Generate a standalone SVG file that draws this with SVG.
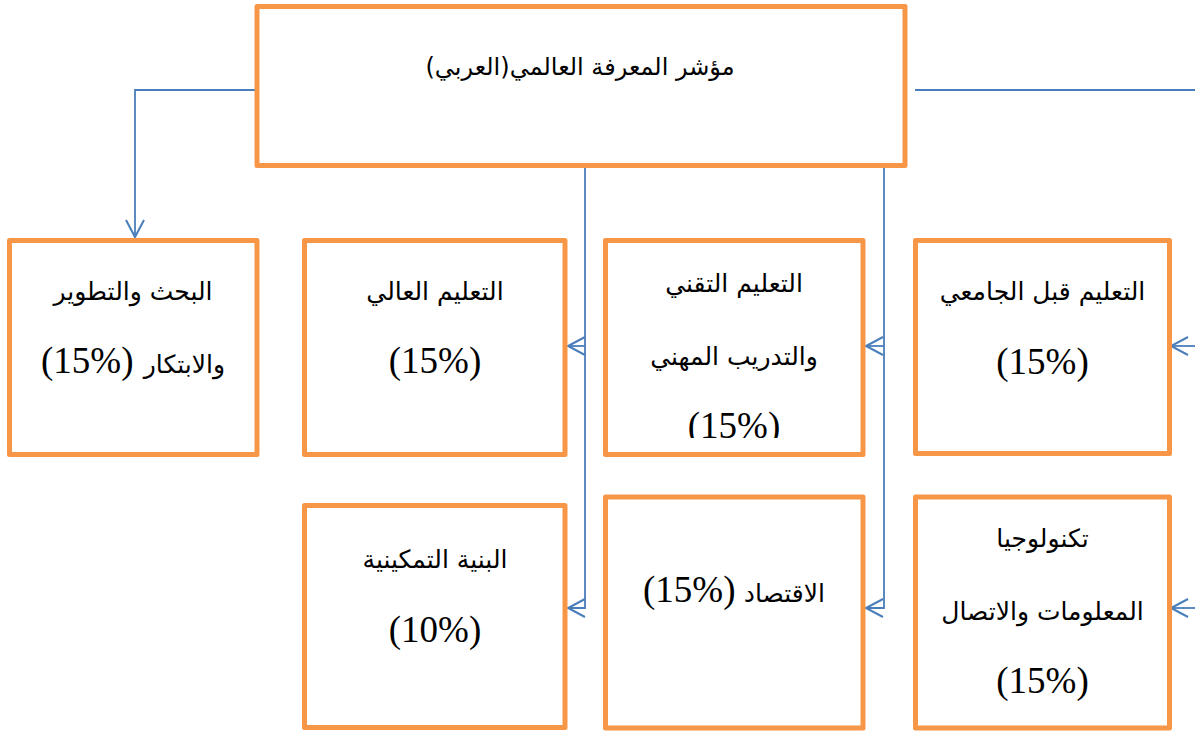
<svg xmlns="http://www.w3.org/2000/svg" width="1195" height="731" viewBox="0 0 1195 731">
<style>
.box{fill:#fff;stroke:#F79646;stroke-width:5;stroke-linejoin:round}
.ar{font-family:"DejaVu Sans","Liberation Serif",sans-serif;font-size:25px;fill:#000;text-anchor:middle}
.num{font-family:"Liberation Serif","DejaVu Serif",serif;font-size:37px;fill:#000;text-anchor:middle}
.con{fill:none;stroke:#4A7EBB;stroke-width:1.8}
</style>
<defs>
<marker id="arr" markerUnits="userSpaceOnUse" markerWidth="24" markerHeight="24" viewBox="-20 -12 24 24" refX="0" refY="0" orient="auto">
<path d="M -17 -9 L 0 0 L -17 9" fill="none" stroke="#4A7EBB" stroke-width="2"/>
</marker>
<clipPath id="clipC"><rect x="600" y="238" width="270" height="200"/></clipPath>
</defs>
<g id="connectors">
<path class="con" d="M 257 90 H 135 V 237" marker-end="url(#arr)"/>
<path class="con" d="M 585 166 V 608 H 568" marker-end="url(#arr)"/>
<path class="con" d="M 585 346 H 568" marker-end="url(#arr)"/>
<path class="con" d="M 884 166 V 608 H 866" marker-end="url(#arr)"/>
<path class="con" d="M 884 346 H 866" marker-end="url(#arr)"/>
<path class="con" d="M 915 90 H 1200"/>
<path class="con" d="M 1200 346 H 1171" marker-end="url(#arr)"/>
<path class="con" d="M 1200 608 H 1171" marker-end="url(#arr)"/>
</g>
<g id="top">
<rect class="box" x="257" y="6.5" width="648" height="159"/>
<text class="ar" x="580" y="75" direction="rtl" style="font-size:24px">مؤشر المعرفة العالمي(العربي)</text>
</g>
<g id="research">
<rect class="box" x="9.5" y="240.5" width="247.5" height="214"/>
<text class="ar" x="133" y="300" direction="rtl">البحث والتطوير</text>
<text class="ar" x="225" y="373" style="text-anchor:end">والابتكار</text>
<text class="num" x="41" y="373" style="text-anchor:start">(15%)</text>
</g>
<g id="higher">
<rect class="box" x="304.5" y="240.5" width="260.5" height="214"/>
<text class="ar" x="435" y="300" direction="rtl">التعليم العالي</text>
<text class="num" x="435" y="373">(15%)</text>
</g>
<g id="technical">
<rect class="box" x="605.5" y="240.5" width="257.5" height="214"/>
<text class="ar" x="734" y="292" direction="rtl">التعليم التقني</text>
<text class="ar" x="734" y="365" direction="rtl">والتدريب المهني</text>
<text class="num" x="734" y="438" clip-path="url(#clipC)">(15%)</text>
</g>
<g id="preuniversity">
<rect class="box" x="915.5" y="240.5" width="254" height="213"/>
<text class="ar" x="1042.5" y="300" direction="rtl">التعليم قبل الجامعي</text>
<text class="num" x="1042.5" y="374">(15%)</text>
</g>
<g id="enabling">
<rect class="box" x="304.5" y="505.5" width="260.5" height="222"/>
<text class="ar" x="435" y="568" direction="rtl">البنية التمكينية</text>
<text class="num" x="435" y="642">(10%)</text>
</g>
<g id="economy">
<rect class="box" x="605.5" y="497" width="257.5" height="231"/>
<text class="ar" x="825" y="602" style="text-anchor:end">الاقتصاد</text>
<text class="num" x="643" y="602" style="text-anchor:start">(15%)</text>
</g>
<g id="ict">
<rect class="box" x="915.5" y="497" width="254" height="231"/>
<text class="ar" x="1042.5" y="547" direction="rtl">تكنولوجيا</text>
<text class="ar" x="1042.5" y="620" direction="rtl">المعلومات والاتصال</text>
<text class="num" x="1042.5" y="693">(15%)</text>
</g>
</svg>
